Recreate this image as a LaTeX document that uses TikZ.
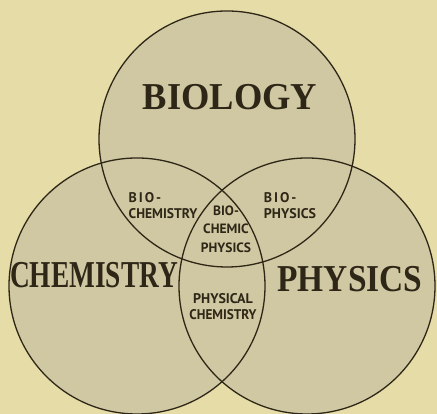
\documentclass[tikz,border=0pt]{standalone}
\usepackage{fontspec}
\usepackage{graphicx}
\setmainfont{Liberation Serif}
\newfontfamily\smallfam{PT Sans}
\newfontfamily\widefam[LetterSpace=14]{PT Sans}
\usetikzlibrary{backgrounds}
\definecolor{paper}{HTML}{E6DCA8}
\definecolor{disc}{HTML}{CFC8A2}
\definecolor{ink}{HTML}{2E2616}
\tikzset{
  ring/.style={circle, draw=ink, line width=1.3pt, minimum size=256pt, inner sep=0pt},
  bigword/.style={text=ink, font=\bfseries\fontsize{38}{40}\selectfont, inner sep=0pt},
  smallword/.style={text=ink, font=\smallfam\bfseries\fontsize{14}{16}\selectfont, align=center, inner sep=0pt},
}
\begin{document}
\begin{tikzpicture}[x=1pt,y=1pt]
\useasboundingbox (0,0) rectangle (437,414);
\begin{scope}[on background layer]
  \fill[paper] (0,0) rectangle (437,414);
  \fill[disc] (227,275) circle[radius=128];
  \fill[disc] (137,128) circle[radius=128];
  \fill[disc] (307,128) circle[radius=128];
\end{scope}
\node[ring] (bio) at (227,275) {};
\node[ring] (chem) at (137,128) {};
\node[ring] (phys) at (307,128) {};
\node[bigword] (lbio) at (230,317) {\scalebox{0.96}[1]{BIOLOGY}};
\node[bigword] (lchem) at (94,139) {\scalebox{0.72}[1]{CHEMISTRY}};
\node[bigword] (lphys) at (350,135) {\scalebox{0.88}[1]{PHYSICS}};
\node[smallword, align=left] (biochem) at (163,208) {{\widefam\bfseries BIO-}\\\scalebox{0.97}[1]{CHEMISTRY}};
\node[smallword, align=left] (biophys) at (290,208) {{\widefam\bfseries BIO-}\\PHYSICS};
\node[smallword, font=\smallfam\bfseries\fontsize{13.5}{18.5}\selectfont] (bcp) at (226,185) {BIO-\\CHEMIC\\PHYSICS};
\node[smallword] (pchem) at (223,107) {PHYSICAL\\\scalebox{0.95}[1]{CHEMISTRY}};
\end{tikzpicture}
\end{document}
